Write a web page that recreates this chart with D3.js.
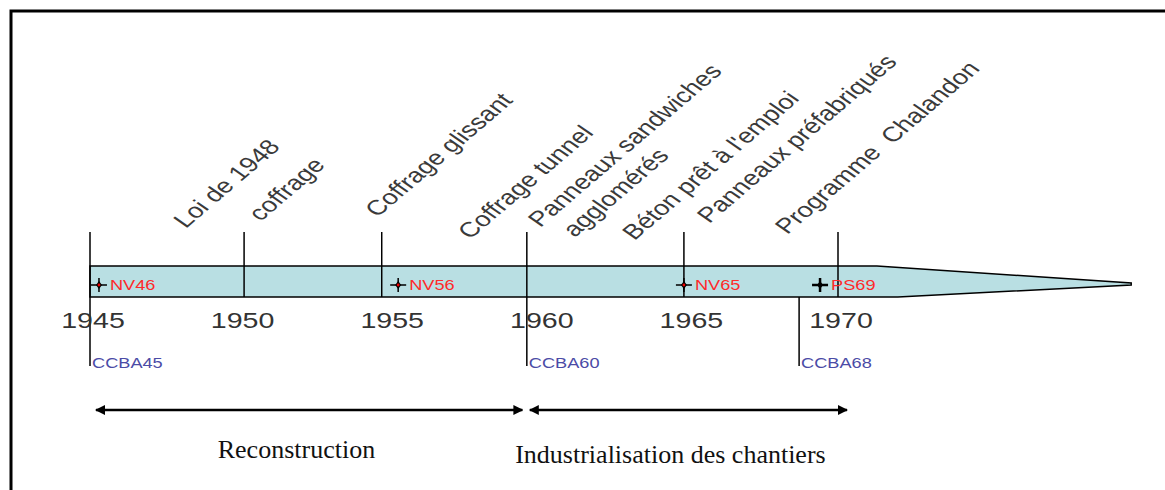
<!DOCTYPE html>
<html lang='fr'>
<head>
  <meta charset='UTF-8'>
  <title>Frise chronologique</title>
  <script src='https://d3js.org/d3.v7.min.js'></script>
  <style>
    body { margin: 0; background: #fff; }
    svg { display: block; }
    .sans { font-family: 'Liberation Sans', Arial, sans-serif; }
    .serif { font-family: 'Liberation Serif', 'Times New Roman', serif; }
  </style>
</head>
<body>
  <svg width='1165' height='490'></svg>

  <script>
    // years on the axis
    var tickYears = [1945, 1950, 1955, 1960, 1965, 1970];

    // vertical separators along the band (years)
    var lineYears = [1945, 1950.15, 1954.75, 1959.6, 1964.85, 1970];

    // regulations below the band
    var codeNames = ['CCBA45', 'CCBA60', 'CCBA68'];
    var codeYears = [1945, 1959.6, 1968.7];

    // markers inside the band
    var markNames = ['NV46', 'NV56', 'NV65', 'PS69'];
    var markYears = [1945.3, 1955.3, 1964.85, 1969.4];

    // slanted labels above the band
    var eventNames = ['Loi de 1948', 'coffrage', 'Coffrage glissant', 'Coffrage tunnel',
      'Panneaux sandwiches', 'agglomérés', 'Béton prêt à l\'emploi',
      'Panneaux préfabriqués', 'Programme  Chalandon'];
    var eventYears = [1948.2, 1950.7, 1954.6, 1957.7, 1960.05, 1961.2, 1963.2, 1965.7, 1968.3];

    // periods (arrows at the bottom)
    var periodNames = ['Reconstruction', 'Industrialisation des chantiers'];
    var periodStart = [1945.2, 1959.7];
    var periodEnd = [1959.45, 1970.3];
    var periodLabelYears = [1951.9, 1964.4];

    // band: flat part then tapering tail
    var bandStart = 1945, bandTopEnd = 1971.3, bandBottomEnd = 1972, bandTip = 1979.8;

    // layout only
    var eventBaseY = [229, 222, 218, 240, 228, 238, 241, 224, 235];
    var bandTop = 266, bandBottom = 297, bandMid = 284;
    var lineTop = 232, lineLong = 366;
    var stretch = 1.3;

    var svg = d3.select('svg');
    var x = d3.scaleLinear().domain([1945, 1970]).range([90, 838]);

    // frame
    svg.append('path')
      .attr('d', 'M11,490 L11,11 L1165,11')
      .attr('fill', 'none')
      .attr('stroke', '#000')
      .attr('stroke-width', 3);

    // band
    var band = d3.line()([
      [x(bandStart), bandTop], [x(bandTopEnd), bandTop], [x(bandTip), bandMid - 1],
      [x(bandTip), bandMid + 1], [x(bandBottomEnd), bandBottom], [x(bandStart), bandBottom]
    ]) + 'Z';
    svg.append('path')
      .attr('d', band)
      .attr('fill', '#b9dfe3')
      .attr('stroke', '#000')
      .attr('stroke-width', 1.5);

    // separators
    svg.selectAll('.sep').data(lineYears)
     .enter().append('line')
      .attr('class', 'sep')
      .attr('x1', d => x(d)).attr('x2', d => x(d))
      .attr('y1', lineTop)
      .attr('y2', d => codeYears.indexOf(d) >= 0 ? lineLong : bandBottom)
      .attr('stroke', '#000')
      .attr('stroke-width', 1.5);

    // regulation lines not on a separator
    codeYears.forEach(function(yr) {
      if (lineYears.indexOf(yr) < 0) {
        svg.append('line')
          .attr('x1', x(yr)).attr('x2', x(yr))
          .attr('y1', bandBottom).attr('y2', lineLong)
          .attr('stroke', '#000')
          .attr('stroke-width', 1.5);
      }
    });

    // regulation labels
    svg.selectAll('.code').data(codeNames)
     .enter().append('text')
      .attr('class', 'code sans')
      .attr('transform', (d, i) => 'translate(' + (x(codeYears[i]) + 2) + ',368) scale(' + stretch + ',1)')
      .attr('font-size', 14)
      .attr('fill', '#4b4ba6')
      .text(d => d);

    // tick labels
    svg.selectAll('.tick').data(tickYears)
     .enter().append('text')
      .attr('class', 'tick sans')
      .attr('transform', d => 'translate(' + (x(d) + 3) + ',328) scale(' + stretch + ',1)')
      .attr('text-anchor', 'middle')
      .attr('font-size', 22)
      .attr('fill', '#333')
      .text(d => d);

    // markers
    var marks = svg.selectAll('.mark').data(markNames)
     .enter().append('g')
      .attr('class', 'mark')
      .attr('transform', (d, i) => 'translate(' + x(markYears[i]) + ',' + (bandMid + 1) + ')');
    marks.append('path')
      .attr('d', 'M-8,0H8M0,-7V7')
      .attr('stroke', '#000')
      .attr('stroke-width', d => d.indexOf('NV') === 0 ? 1.5 : 2.5);
    marks.append('path')
      .attr('d', 'M-3,0L0,-4L3,0L0,4Z')
      .attr('fill', '#000');
    marks.filter(d => d.indexOf('NV') === 0).append('circle')
      .attr('r', 1.4)
      .attr('fill', '#e00');
    marks.append('text')
      .attr('class', 'sans')
      .attr('transform', 'translate(11,5) scale(' + stretch + ',1)')
      .attr('font-size', 14)
      .attr('fill', '#ff2a2a')
      .text(d => d);

    // slanted event labels
    svg.selectAll('.event').data(eventNames)
     .enter().append('text')
      .attr('class', 'event sans')
      .attr('transform', (d, i) => 'translate(' + x(eventYears[i]) + ',' + eventBaseY[i] + ') scale(' + stretch + ',1) rotate(-48)')
      .attr('font-size', 21)
      .attr('fill', '#3a3a3a')
      .style('white-space', 'pre')
      .text(d => d);

    // arrowheads
    var defs = svg.append('defs');
    defs.append('marker')
      .attr('id', 'head')
      .attr('viewBox', '0 0 10 10')
      .attr('refX', 9).attr('refY', 5)
      .attr('markerWidth', 4).attr('markerHeight', 4)
      .attr('orient', 'auto-start-reverse')
     .append('path')
      .attr('d', 'M0,0L10,5L0,10Z')
      .attr('fill', '#000');

    svg.selectAll('.period').data(periodNames)
     .enter().append('line')
      .attr('class', 'period')
      .attr('x1', (d, i) => x(periodStart[i]))
      .attr('x2', (d, i) => x(periodEnd[i]))
      .attr('y1', 410).attr('y2', 410)
      .attr('stroke', '#000')
      .attr('stroke-width', 2.5)
      .attr('marker-start', 'url(#head)')
      .attr('marker-end', 'url(#head)');

    svg.selectAll('.plabel').data(periodNames)
     .enter().append('text')
      .attr('class', 'plabel serif')
      .attr('x', (d, i) => x(periodLabelYears[i]))
      .attr('y', (d, i) => i === 0 ? 458 : 463)
      .attr('text-anchor', 'middle')
      .attr('font-size', 26)
      .attr('fill', '#111')
      .text(d => d);
  </script>
</body>
</html>
